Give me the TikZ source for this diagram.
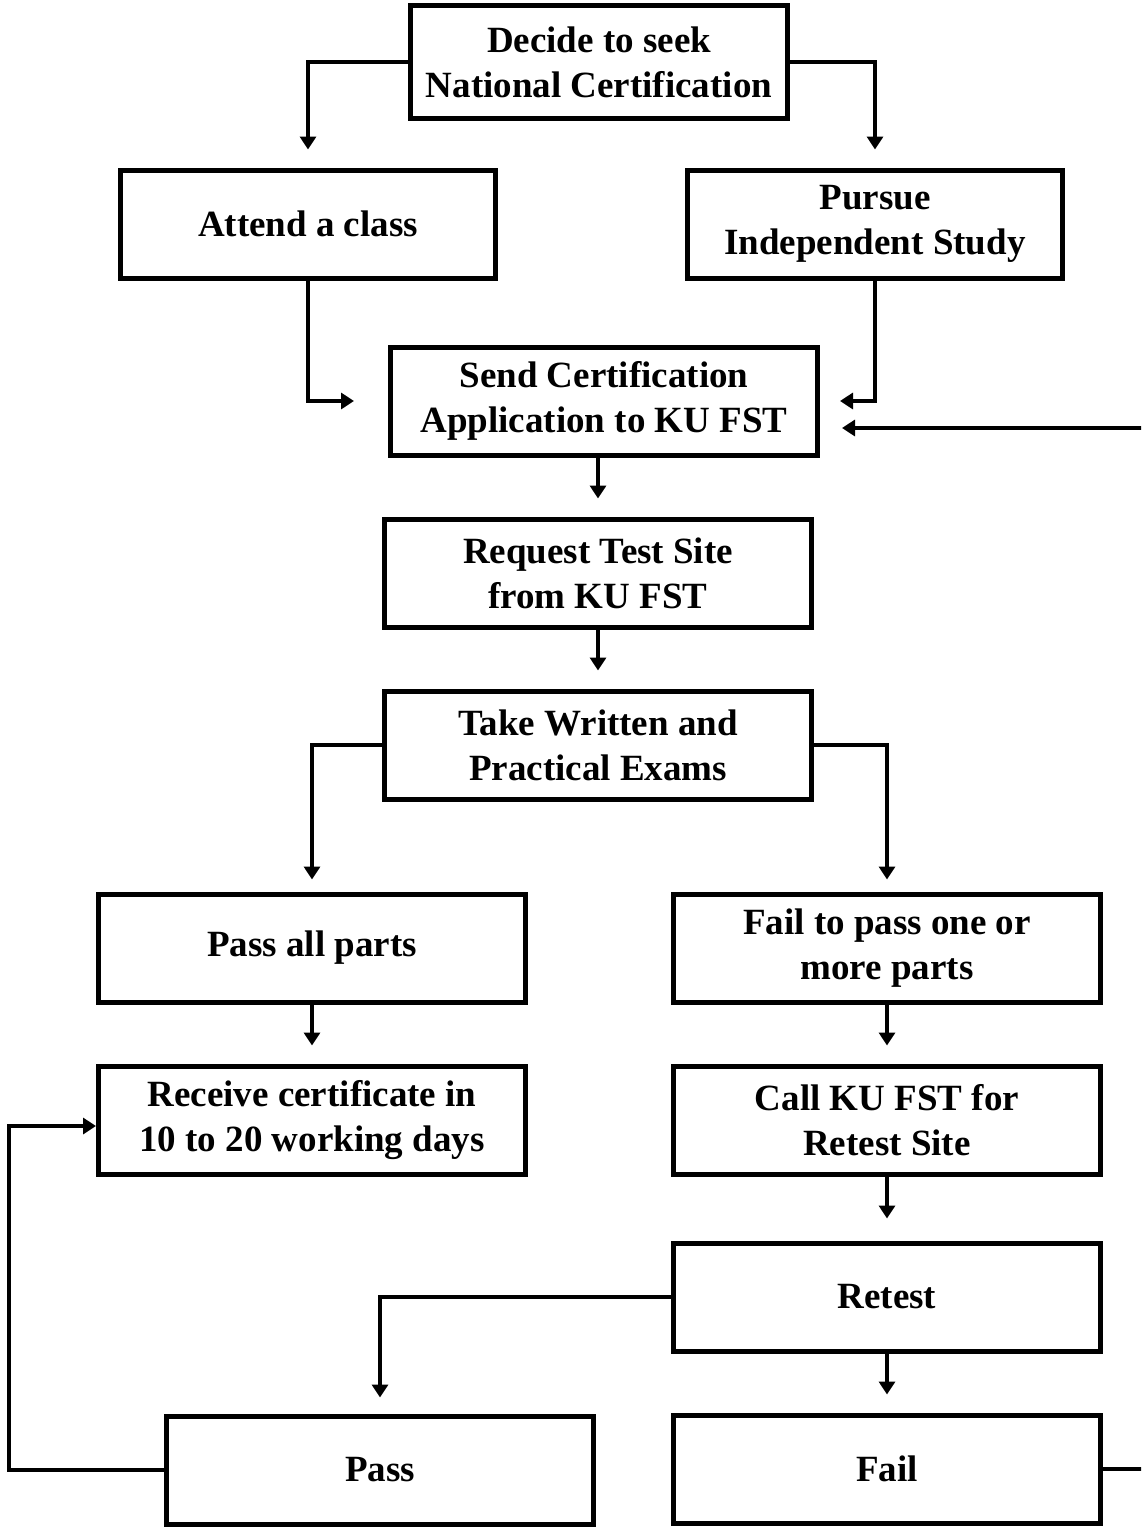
\documentclass[tikz,border=0pt]{standalone}
\usepackage{fontspec}
\setmainfont{Liberation Serif}
\usetikzlibrary{positioning, arrows.meta}

\begin{document}
\begin{tikzpicture}[x=1pt, y=-1pt, node distance=59pt,
        box/.style={rectangle, draw, line width=5pt, minimum width=427pt, minimum height=108pt,
            inner sep=0pt, align=center, font=\fontsize{37}{45}\selectfont\bfseries},
        narrowbox/.style={box, minimum width=375pt},
        arr/.style={line width=4.5pt, -{Triangle[width=16pt,length=13pt]}}]
        \useasboundingbox (0,0) rectangle (1141,1528);
        \clip (0,0) rectangle (1141,1528);

        \node[narrowbox, minimum width=377pt, minimum height=113pt](decide) at (599,62){Decide to seek\\National Certification};
        \node[narrowbox](attend) at (308,224){Attend a class};
        \node[narrowbox](pursue) at (875,224){Pursue\\Independent Study};
        \node[box](send) at (604,401){Send Certification\\Application to KU FST};
        \node[box](request)[below = of send, xshift=-6pt]{Request Test Site\\from KU FST};
        \node[box](take)[below = of request]{Take Written and\\Practical Exams};
        \node[box](passall) at (312,948){Pass all parts};
        \node[box](receive)[below = of passall]{Receive certificate in\\10 to 20 working days};
        \node[box](failpart) at (887,948){Fail to pass one or\\more parts};
        \node[box](call)[below = of failpart]{Call KU FST for\\Retest Site};
        \node[box](retest)[below = 64pt of call]{Retest};
        \node[box](fail)[below = of retest]{Fail};
        \node[box](pass) at (380,1470){Pass};

        \draw[arr, shorten >=18pt] (decide.west) -| (attend.north);
        \draw[arr, shorten >=18pt] (decide.east) -| (pursue.north);
        \draw[arr, shorten >=34pt] (attend.south) |- (send.west);
        \draw[arr, shorten >=20pt] (pursue.south) |- (send.east);
        \draw[arr, shorten >=18pt] (send.south -| request.north) -- (request.north);
        \draw[arr, shorten >=18pt] (request) -- (take);
        \draw[arr, shorten >=12pt] (take.west) -| (passall.north);
        \draw[arr, shorten >=12pt] (take.east) -| (failpart.north);
        \draw[arr, shorten >=18pt] (passall) -- (receive);
        \draw[arr, shorten >=18pt] (failpart) -- (call);
        \draw[arr, shorten >=22pt] (call) -- (retest);
        \draw[arr, shorten >=18pt] (retest) -- (fail);
        \draw[arr, shorten >=16pt] (retest.west) -| (pass.north);
        \draw[arr] (pass.west) -- ++(-155,0) |- ([yshift=-6pt]receive.west);
        \draw[arr, shorten >=22pt] (fail.east) -- ++(80,0) |- ([yshift=-27pt]send.east);
    \end{tikzpicture}
\end{document}
